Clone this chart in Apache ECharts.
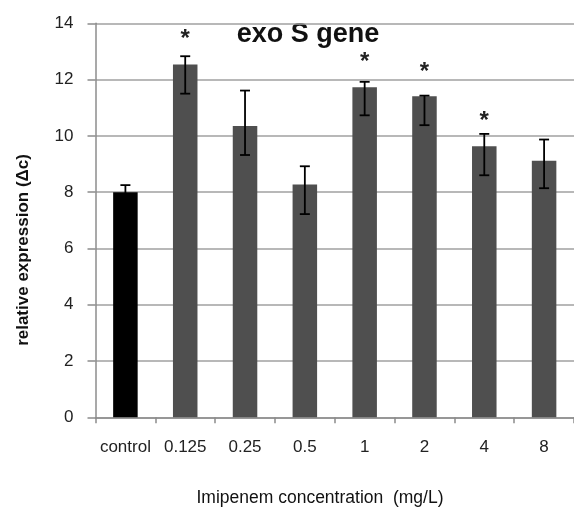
<!DOCTYPE html>
<html>
<head>
<meta charset="utf-8">
<script src="https://cdn.jsdelivr.net/npm/echarts@6/dist/echarts.min.js"></script>
<style>
html,body{margin:0;padding:0;background:#fff;}
#c{width:574px;height:508px;}
</style>
</head>
<body>
<div id="c"></div>
<script>
// ---- data ----
const categories = ['control', '0.125', '0.25', '0.5', '1', '2', '4', '8'];
const values     = [8.0, 12.54, 10.35, 8.27, 11.73, 11.41, 9.63, 9.12];
const errLow     = [7.75, 11.50, 9.32, 7.22, 10.73, 10.38, 8.60, 8.14];
const errHigh    = [8.25, 12.83, 11.61, 8.92, 11.92, 11.43, 10.07, 9.87];
const starLevel  = [null, 13.57, null, null, 12.76, 12.40, 10.66, null];
const yTicks     = [0, 2, 4, 6, 8, 10, 12, 14];

const FONT = "'Liberation Sans', Arial, sans-serif";

const chart = echarts.init(document.getElementById('c'), null, {renderer: 'canvas'});

const barData = values.map((v, i) => ({
  value: v,
  itemStyle: { color: i === 0 ? '#000000' : '#4f4f4f' }
}));

const errData = categories.map((c, i) => [i, errLow[i], errHigh[i], starLevel[i] == null ? NaN : starLevel[i]]);

chart.setOption({
  animation: false,
  backgroundColor: '#ffffff',
  grid: { left: 95.5, top: 23.3, width: 486, height: 394, containLabel: false },
  xAxis: {
    type: 'category',
    data: categories,
    boundaryGap: true,
    axisLine: { show: true, lineStyle: { color: '#8c8c8c', width: 1.5 } },
    axisTick: { show: true, inside: false, length: 6, alignWithLabel: false, lineStyle: { color: '#8c8c8c', width: 1.5 } },
    axisLabel: { color: '#222', fontFamily: FONT, fontSize: 17, margin: 22, interval: 0 },
    splitLine: { show: false }
  },
  yAxis: {
    type: 'value',
    min: yTicks[0],
    max: yTicks[yTicks.length - 1],
    interval: yTicks[1] - yTicks[0],
    axisLine: { show: true, lineStyle: { color: '#8c8c8c', width: 1.5 } },
    axisTick: { show: true, length: 8, lineStyle: { color: '#8c8c8c', width: 1.5 } },
    axisLabel: { color: '#222', fontFamily: FONT, fontSize: 17, margin: 22 },
    splitLine: { show: true, lineStyle: { color: '#a0a0a0', width: 1.5 } }
  },
  series: [
    {
      type: 'bar',
      data: barData,
      barWidth: '41%',
      z: 2
    },
    {
      type: 'custom',
      data: errData,
      z: 5,
      clip: false,
      renderItem: function (params, api) {
        const i = api.value(0);
        const lo = api.coord([i, api.value(1)]);
        const hi = api.coord([i, api.value(2)]);
        const half = 5;
        const ls = { stroke: '#000', lineWidth: 1.8 };
        const children = [
          { type: 'line', shape: { x1: hi[0], y1: hi[1], x2: lo[0], y2: lo[1] }, style: ls },
          { type: 'line', shape: { x1: hi[0] - half, y1: hi[1], x2: hi[0] + half, y2: hi[1] }, style: ls },
          { type: 'line', shape: { x1: lo[0] - half, y1: lo[1], x2: lo[0] + half, y2: lo[1] }, style: ls }
        ];
        const s = api.value(3);
        if (!isNaN(s)) {
          const p = api.coord([i, s]);
          children.push({
            type: 'text',
            x: p[0], y: p[1] + 4,
            style: { text: '*', font: 'bold 24px ' + FONT, fill: '#222',
                     align: 'center', verticalAlign: 'middle', textAlign: 'center', textVerticalAlign: 'middle' }
          });
        }
        return { type: 'group', children: children };
      }
    }
  ],
  graphic: [
    {
      type: 'text', x: 308, y: 35,
      style: { text: 'exo S gene', font: 'bold 27px ' + FONT, fill: '#111',
               textAlign: 'center', textVerticalAlign: 'middle', align: 'center', verticalAlign: 'middle' }
    },
    {
      type: 'text', x: 23.5, y: 250, rotation: Math.PI / 2,
      style: { text: 'relative expression (\u0394c)', font: 'bold 17px ' + FONT, fill: '#111',
               textAlign: 'center', textVerticalAlign: 'middle', align: 'center', verticalAlign: 'middle' }
    },
    {
      type: 'text', x: 320, y: 498,
      style: { text: 'Imipenem concentration  (mg/L)', font: '17.5px ' + FONT, fill: '#111',
               textAlign: 'center', textVerticalAlign: 'middle', align: 'center', verticalAlign: 'middle' }
    }
  ]
});
</script>
</body>
</html>
